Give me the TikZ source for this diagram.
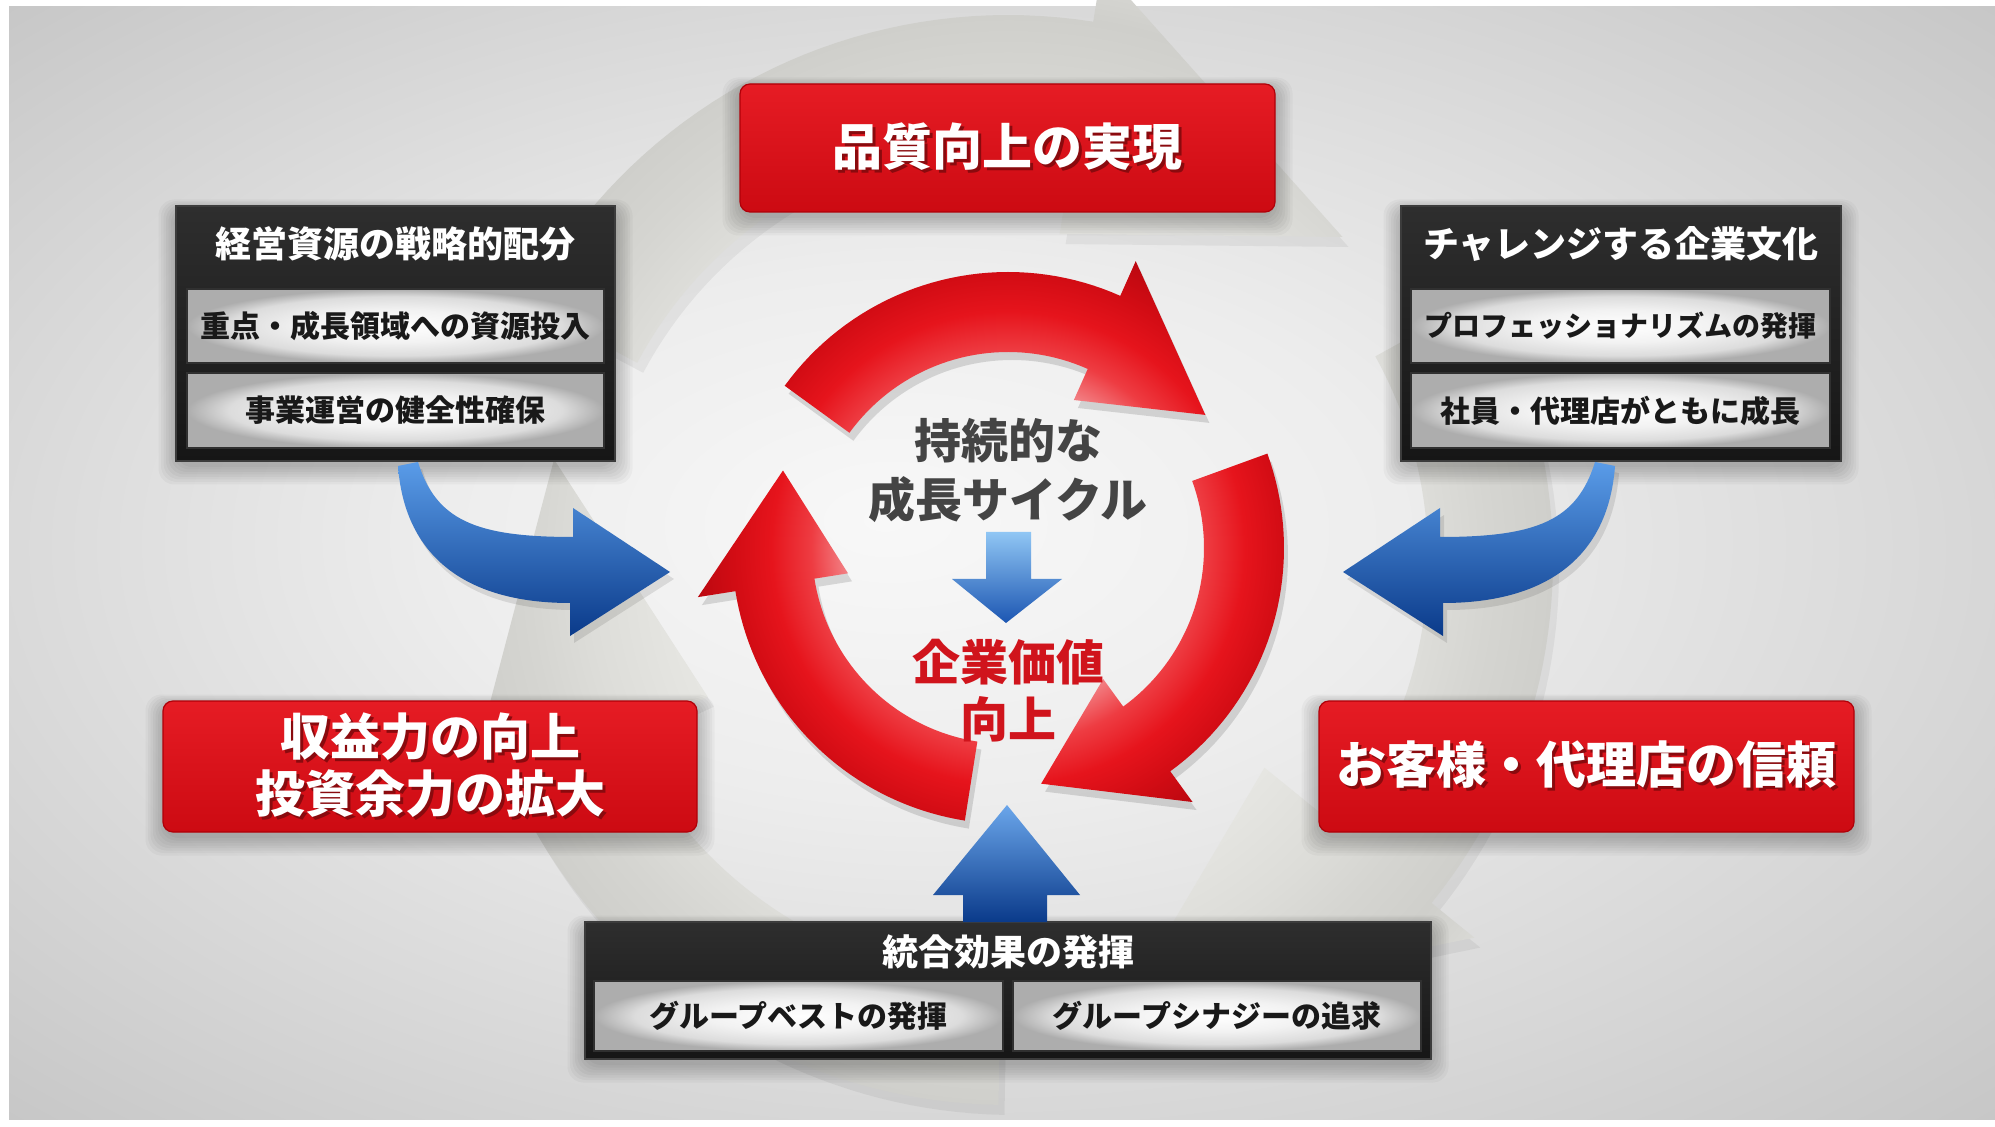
\documentclass[tikz,border=0pt]{standalone}
\usepackage{fontspec}
\newfontfamily\jp{Noto Sans CJK JP}
\usetikzlibrary{calc}

\definecolor{bgA}{HTML}{F8F8F8}
\definecolor{bgB}{HTML}{EDEDED}
\definecolor{bgC}{HTML}{D8D8D8}
\definecolor{bgD}{HTML}{C6C6C6}
\definecolor{grA}{HTML}{E6E6E2}
\definecolor{grB}{HTML}{DDDDD9}
\definecolor{grC}{HTML}{D5D5D1}
\definecolor{grD}{HTML}{CFCFCB}
\definecolor{grE}{HTML}{D9D9D5}
\definecolor{rpA}{HTML}{F27C80}
\definecolor{rpB}{HTML}{EE3C42}
\definecolor{rpC}{HTML}{E6141C}
\definecolor{rpD}{HTML}{D20C14}
\definecolor{rpE}{HTML}{BC0810}
\definecolor{rtop}{HTML}{E61C24}
\definecolor{rbot}{HTML}{CC0A12}
\definecolor{rbord}{HTML}{B00008}
\definecolor{dtop}{HTML}{2E2E2E}
\definecolor{dbot}{HTML}{161616}
\definecolor{dbord}{HTML}{3C3C3C}
\definecolor{sbord}{HTML}{303030}
\definecolor{gbM}{HTML}{F2F2F2}
\definecolor{gbA}{HTML}{DCDCDC}
\definecolor{gbB}{HTML}{ADADAD}
\definecolor{blueL}{HTML}{5A9CE8}
\definecolor{blueD}{HTML}{0A3A8A}
\definecolor{blueT}{HTML}{90C6F4}
\definecolor{blueM}{HTML}{1C56B2}
\definecolor{ctxt}{HTML}{444444}
\definecolor{vtxt}{HTML}{D0141C}
\definecolor{rshd}{HTML}{8A0A0E}

\pgfdeclareradialshading{bgshade}{\pgfpoint{-3bp}{2bp}}{color(0bp)=(bgA); color(12bp)=(bgB); color(25bp)=(bgC); color(36bp)=(bgD)}
\pgfdeclareradialshading{grayring}{\pgfpoint{0bp}{0bp}}{color(0bp)=(grA); color(12.9bp)=(grA); color(16.4bp)=(grB); color(18.8bp)=(grC); color(21.3bp)=(grD); color(23.4bp)=(grE); color(25bp)=(grE)}
\pgfdeclareradialshading{redring}{\pgfpoint{0bp}{0bp}}{color(0bp)=(rpA); color(10.3bp)=(rpA); color(12.3bp)=(rpB); color(14.8bp)=(rpC); color(17.2bp)=(rpD); color(19.5bp)=(rpE); color(25bp)=(rpE)}
\pgfdeclareradialshading{glowbox}{\pgfpoint{0bp}{0bp}}{color(0bp)=(white); color(11bp)=(gbM); color(20bp)=(gbA); color(25bp)=(gbB); color(36bp)=(gbB)}

% ring arrow: tail angle, head base angle, tip angle (math angles, clockwise motion)
\newcommand\rarrow[3]{plot[domain=#1:#2,samples=40] ({\RCx+\Ro*cos(\x)},{\RCy-\Ro*sin(\x)}) -- ({\RCx+\Ho*cos(#2)},{\RCy-\Ho*sin(#2)}) -- ({\RCx+\Rt*cos(#3)},{\RCy-\Rt*sin(#3)}) -- ({\RCx+\Hi*cos(#2)},{\RCy-\Hi*sin(#2)}) -- ({\RCx+\Ri*cos(#2)},{\RCy-\Ri*sin(#2)}) -- plot[domain=#2:#1,samples=40] ({\RCx+\Ri*cos(\x)},{\RCy-\Ri*sin(\x)}) -- cycle}

\newcommand\bluecurve{(418,462) .. controls (436,520) and (475,537) .. (573,537) -- (573,508) -- (670,572) -- (570,636) -- (570,603) .. controls (470,603) and (405,560) .. (398,466) -- cycle}

\newcommand\softsh[4]{\foreach \k in {0,...,7}{\fill[black,opacity=0.03,rounded corners=8pt] ({#1-\k*2.5},{#2+4-\k*1.5}) rectangle ({#3+\k*2.5},{#4+6+\k*2.5});}}

% text with a built-in drop shadow: colour, offset, text
\newcommand\shd[3]{\rlap{\kern#2\raisebox{-#2}{\textcolor{#1}{#3}}}#3}

\tikzset{
  redbox/.style={rectangle, rounded corners=5pt, top color=rtop, bottom color=rbot, draw=rbord, line width=0.6pt, inner sep=0pt},
  darkbox/.style={rectangle, top color=dtop, bottom color=dbot, draw=dbord, line width=0.8pt, inner sep=0pt},
  subbox/.style={rectangle, shade, shading=glowbox, draw=sbord, line width=0.8pt, inner sep=0pt},
  bigtxt/.style={font=\jp\bfseries\fontsize{25}{28.5}\selectfont, text=white, align=center, inner sep=0pt},
  titletxt/.style={font=\jp\bfseries\fontsize{18}{22}\selectfont, text=white, inner sep=0pt},
  subtxt/.style={font=\jp\bfseries\fontsize{15}{18}\selectfont, text=black!90, inner sep=0pt},
  subtxtS/.style={font=\jp\bfseries\fontsize{14}{17}\selectfont, text=black!90, inner sep=0pt},
  ctext/.style={font=\jp\bfseries\fontsize{23.5}{28}\selectfont, text=ctxt, inner sep=0pt},
  vtext/.style={font=\jp\bfseries\fontsize{24}{28}\selectfont, text=vtxt, inner sep=0pt},
}

\begin{document}
\begin{tikzpicture}[x=0.5pt,y=-0.5pt]
\useasboundingbox (0,0) rectangle (1995,1127);
\fill[white] (0,0) rectangle (1995,1127);
\shade[shading=bgshade] (9,7) rectangle (1995,1119);

% ---------- big gray background cycle ----------
\def\RCx{1008}\def\RCy{560}\def\Ri{420}\def\Ro{545}\def\Hi{330}\def\Ho{600}\def\Rt{465}
\fill[black,opacity=0.05,shift={(6,10)}] \rarrow{152}{81}{44} \rarrow{29}{-39}{-76} \rarrow{-91}{-155.5}{-192.5};
\begin{scope}
  \clip \rarrow{152}{81}{44} \rarrow{29}{-39}{-76} \rarrow{-91}{-155.5}{-192.5};
  \shade[shading=grayring] (\RCx,\RCy) circle (640);
\end{scope}

% ---------- soft shadows ----------
\softsh{740}{84}{1275}{212}
\softsh{163}{701}{697}{832}
\softsh{1319}{701}{1854}{832}
\softsh{176}{206}{615}{461}
\softsh{1401}{206}{1841}{461}
\softsh{585}{922}{1431}{1059}

% ---------- red boxes ----------
\node[redbox, minimum width=267.5pt, minimum height=64pt] (quality) at (1007.5,148) {};
\node[bigtxt] (qualityT) at (1007.5,148) {\shd{rshd}{1.5pt}{品質向上の実現}};

\node[redbox, minimum width=267pt, minimum height=65.5pt] (profit) at (430,766.5) {};
\node[bigtxt] (profitT) at (430,766.5) {\shd{rshd}{1.5pt}{収益力の向上}\\\shd{rshd}{1.5pt}{投資余力の拡大}};

\node[redbox, minimum width=267.5pt, minimum height=65.5pt] (trust) at (1586.5,766.5) {};
\node[bigtxt] (trustT) at (1586.5,766.5) {\shd{rshd}{1.5pt}{お客様・代理店の信頼}};

% ---------- dark boxes ----------
\node[darkbox, minimum width=219.5pt, minimum height=127.5pt] (left) at (395.5,333.5) {};
\node[titletxt] (leftT) at (395.5,244) {経営資源の戦略的配分};
\node[subbox, minimum width=208.5pt, minimum height=37pt] (left1) at (395.5,326) {};
\node[subtxt] (left1T) at (395.5,326) {重点・成長領域への資源投入};
\node[subbox, minimum width=208.5pt, minimum height=37.5pt] (left2) at (395.5,410.5) {};
\node[subtxt] (left2T) at (395.5,410.5) {事業運営の健全性確保};

\node[darkbox, minimum width=220pt, minimum height=127.5pt] (right) at (1621,333.5) {};
\node[titletxt] (rightT) at (1621,244) {チャレンジする企業文化};
\node[subbox, minimum width=209.5pt, minimum height=37pt] (right1) at (1620.5,326) {};
\node[subtxtS] (right1T) at (1620.5,326) {プロフェッショナリズムの発揮};
\node[subbox, minimum width=209.5pt, minimum height=37.5pt] (right2) at (1620.5,410.5) {};
\node[subtxt] (right2T) at (1620.5,410.5) {社員・代理店がともに成長};

\node[darkbox, minimum width=423pt, minimum height=68.5pt] (bottom) at (1008,990.5) {};
\node[titletxt] (bottomT) at (1008,952) {統合効果の発揮};
\node[subbox, minimum width=204.5pt, minimum height=35pt] (bottom1) at (798.5,1016) {};
\node[subtxt] (bottom1T) at (798.5,1016) {グループベストの発揮};
\node[subbox, minimum width=204pt, minimum height=35pt] (bottom2) at (1217,1016) {};
\node[subtxt] (bottom2T) at (1217,1016) {グループシナジーの追求};

% ---------- blue side arrows ----------
\fill[black,opacity=0.10,shift={(4,7)}] \bluecurve;
\shade[top color=blueL, bottom color=blueD] \bluecurve;
\begin{scope}[shift={(2013,0)},xscale=-1]
  \fill[black,opacity=0.10,shift={(-4,7)}] \bluecurve;
  \shade[top color=blueL, bottom color=blueD] \bluecurve;
\end{scope}

% blue up arrow from bottom box
\shade[top color=blueL!90!white, bottom color=blueD] (963,922) -- (963,895) -- (933,895) -- (1007,805) -- (1080,895) -- (1047,895) -- (1047,922) -- cycle;

% ---------- red growth cycle ----------
\def\RCx{1008}\def\RCy{548}\def\Ri{196}\def\Ro{276}\def\Hi{162}\def\Ho{314}\def\Rt{238}
\fill[black,opacity=0.13,shift={(4,8)}] \rarrow{144}{66}{34} \rarrow{20}{-54}{-82} \rarrow{-99}{-171}{-199};
\begin{scope}
  \clip \rarrow{144}{66}{34} \rarrow{20}{-54}{-82} \rarrow{-99}{-171}{-199};
  \shade[shading=redring] (\RCx,\RCy) circle (400);
\end{scope}

% ---------- centre texts ----------
\node[ctext] (c1) at (1008,441) {持続的な};
\node[ctext] (c2) at (1008,500) {成長サイクル};

\shade[top color=blueT, bottom color=blueM] (986,532) -- (1031,532) -- (1031,579) -- (1062,579) -- (1006,623) -- (952,579) -- (986,579) -- cycle;

\node[vtext] (v1) at (1008,662) {企業価値};
\node[vtext] (v2) at (1008,719) {向上};
\end{tikzpicture}
\end{document}
